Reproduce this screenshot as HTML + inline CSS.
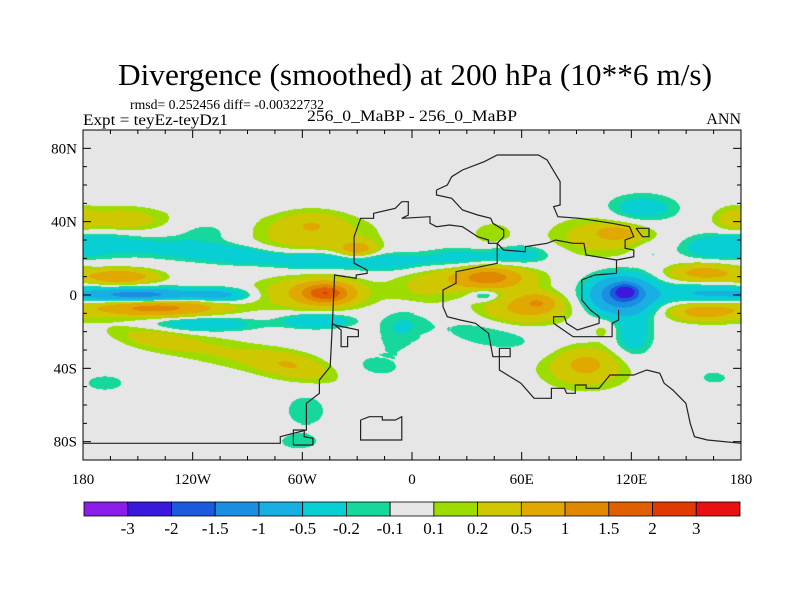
<!DOCTYPE html>
<html><head><meta charset="utf-8"><style>
html,body{margin:0;padding:0;background:#fff;}
#wrap{position:relative;width:800px;height:600px;overflow:hidden;}
svg text{font-family:"Liberation Serif","DejaVu Serif",serif;fill:#000;}
</style></head><body>
<div id="wrap">
<canvas id="field" width="658" height="330" style="position:absolute;left:83px;top:130px;"></canvas>
<svg id="svg" width="800" height="600" style="position:absolute;left:0;top:0;" font-family="Liberation Serif, DejaVu Serif, serif">
<text x="415" y="85" font-size="31" text-anchor="middle" textLength="594" lengthAdjust="spacingAndGlyphs">Divergence (smoothed) at 200 hPa (10**6 m/s)</text>
<text x="130" y="109" font-size="14" textLength="194" lengthAdjust="spacingAndGlyphs">rmsd= 0.252456 diff= -0.00322732</text>
<text x="83" y="125" font-size="16" textLength="145" lengthAdjust="spacingAndGlyphs">Expt = teyEz-teyDz1</text>
<text x="412" y="121" font-size="16" text-anchor="middle" textLength="210" lengthAdjust="spacingAndGlyphs">256_0_MaBP - 256_0_MaBP</text>
<text x="741" y="124" font-size="16" text-anchor="end">ANN</text>
<g id="coast"></g>
<rect x="83" y="130" width="658" height="330" fill="none" stroke="#000" stroke-width="1"/>
<g id="ticks"></g>
<g id="cbar"></g>
</svg>
</div>
<script>
// ---- data ----
const levels = [-3,-2,-1.5,-1,-0.5,-0.2,-0.1,0.1,0.2,0.5,1,1.5,2,3];
const levelLabels = ["-3","-2","-1.5","-1","-0.5","-0.2","-0.1","0.1","0.2","0.5","1","1.5","2","3"];
const colors = ["#8a1ee8","#3a18dc","#1a5adc","#1a8ee0","#18b0e2","#08cfd4","#16d89c","#e6e6e6","#9cdc00","#cfc800","#e0a800","#e08800","#e06000","#e03a00","#e81010"];
const lonTicks = [-180,-120,-60,0,60,120,180];
const lonLabels = ["180","120W","60W","0","60E","120E","180"];
const latTicks = [80,40,0,-40,-80];
const latLabels = ["80N","40N","0","40S","80S"];
// blob centres: lon, lat, amplitude, half-width lon, half-width lat, rotation(deg)
const blobLon = [-150,-105,-160,-140,-130,-95,-55,-15,25,58,-170,-160,-112,-55,-55,-30,-47,-55,-52,-115,-99,-67,-140,-20,-168,-58,-62,40,42,5,62,69,40,42,-1,44,115,117,158,121,160,160,165,105,112,126,176,130,95,95,105,165,-10];
const blobLat = [0,0,10,-7,25,22,19,18,20,22,28,41,34,33,39,25,1,1,-14,-16,-32,-38,-24,-40,-48,-63,-80,9,10,3,-7,-4,0,-22,-15,33,0,2,1,-22,12,-9,26,32,34,47,41,23,-40,-37,-19,-45,-20];
const blobAmp = [-1.3,-0.6,0.9,1.2,-0.3,-0.4,-0.5,-0.4,-0.3,-0.35,-0.3,0.35,-0.15,0.35,0.25,0.7,1.6,0.45,-0.5,-0.45,0.22,0.35,0.2,-0.15,-0.15,-0.2,-0.15,0.8,0.6,0.2,0.6,0.6,-0.4,-0.18,-0.15,0.18,-1.6,-1.2,-0.5,-0.35,0.7,0.7,-0.35,0.35,0.5,-0.35,0.25,-0.15,0.35,0.3,0.15,-0.15,-0.12];
const blobWx = [48,22,28,52,30,28,28,28,22,20,24,30,14,38,14,14,22,38,24,36,70,20,16,14,10,10,10,36,18,16,30,12,10,24,9,10,28,10,30,12,26,26,22,32,14,22,10,7,28,14,5,6,6];
const blobWy = [6,5,6,7,6,6,6,6,6,6,8,8,5,13,6,6,9,11,5,5,8,7,5,7,4,8,4,10,6,10,11,6,4,6,8,6,16,6,7,14,7,7,8,12,5,9,7,4,13,8,4,3,6];
const blobRot = [0,0,0,0,-4,-3,0,0,0,0,0,0,0,0,0,0,0,0,0,0,-12,-10,-8,0,0,0,0,0,0,0,0,0,0,-10,0,0,0,0,0,0,0,0,0,0,0,0,0,0,0,0,0,0,0];
// coastline outlines, in reference-grid units
const coastLines = [
 [[30,1060],[485,1060],[485,1040],[545,1020],[545,940],[575,910],[575,870],[600,830],[605,700],[610,555],[660,565],[660,555],[685,550],[685,540],[655,520],[655,440],[670,385],[700,385],[700,370],[750,355],[765,335],[780,335],[780,375],[765,385],[830,380],[830,400],[845,410],[875,405],[905,410],[940,440],[965,450],[965,460],[985,460],[985,520],[890,545],[890,580],[860,600],[860,650],[870,680],[900,690],[935,700],[965,730],[975,800],[1015,800],[1015,775],[990,775],[990,840],[1040,880],[1070,925],[1110,925],[1110,895],[1140,895],[1145,910],[1165,910],[1165,885],[1190,885],[1190,895],[1220,895],[1245,855],[1300,855],[1330,840],[1360,850],[1370,880],[1390,900],[1420,940],[1430,1000],[1440,1040],[1470,1050],[1548,1060]],
 [[985,460],[1000,480],[1050,485],[1050,470],[1100,460],[1120,450],[1160,460],[1185,460],[1190,495],[1260,510]],
 [[845,300],[845,315],[880,325],[905,360],[940,375],[970,385],[975,400],[1000,420],[1000,440],[985,460]],
 [[845,300],[870,285],[880,260],[905,240],[955,215],[985,195],[1080,195],[1100,210],[1130,275],[1130,345],[1115,350],[1125,380],[1175,385],[1250,400],[1290,410],[1300,440],[1280,450],[1280,475],[1300,480],[1300,500],[1260,510],[1260,550],[1210,555],[1180,570],[1180,630],[1200,660],[1220,680],[1220,700],[1170,720],[1145,700],[1140,680],[1115,680],[1115,700],[1160,740],[1250,740],[1250,700],[1265,690],[1265,660]],
 [[605,700],[625,720],[625,770],[640,770],[640,740],[665,740],[665,720],[610,705]],
 [[670,990],[690,980],[720,980],[720,990],[750,990],[765,980],[765,1050],[670,1050],[670,990]],
 [[515,1065],[515,1020],[540,1020],[540,1040],[560,1045],[560,1065],[515,1065]],
 [[1305,415],[1335,415],[1335,440],[1320,440],[1305,415]]
];
// ---- axes ----
const X0=83,X1=741,Y0=130,Y1=460;
const xScale = lon => X0 + (lon+180)/360*(X1-X0);
const yScale = lat => Y0 + (90-lat)/180*(Y1-Y0);
const NS="http://www.w3.org/2000/svg";
function mk(tag,attrs,parent){const e=document.createElementNS(NS,tag);for(const k in attrs)e.setAttribute(k,attrs[k]);parent.appendChild(e);return e;}

// ---- field ----
const cv=document.getElementById('field'),ctx=cv.getContext('2d');
const W=cv.width,H=cv.height,img=ctx.createImageData(W,H);
const rgb=colors.map(c=>[parseInt(c.substr(1,2),16),parseInt(c.substr(3,2),16),parseInt(c.substr(5,2),16)]);
const pre=blobLon.map((_,i)=>{const a=blobRot[i]*Math.PI/180;return [Math.cos(a),Math.sin(a),Math.max(0.3,Math.log(Math.abs(blobAmp[i])/0.09))];});
for(let py=0;py<H;py++){
 const lat=90-(py+0.5)/H*180;
 for(let px=0;px<W;px++){
  const lon=-180+(px+0.5)/W*360;
  let v=0;
  for(let i=0;i<blobLon.length;i++){
   let dx=lon-blobLon[i]; if(dx>180)dx-=360; if(dx<-180)dx+=360;
   const dy=lat-blobLat[i];
   const u=(dx*pre[i][0]+dy*pre[i][1])/blobWx[i], w=(-dx*pre[i][1]+dy*pre[i][0])/blobWy[i];
   const r2=u*u+w*w; if(r2>6)continue;
   v+=blobAmp[i]*Math.exp(-pre[i][2]*r2);
  }
  let k=0; while(k<levels.length && v>=levels[k])k++;
  const c=rgb[k],o=(py*W+px)*4;
  img.data[o]=c[0];img.data[o+1]=c[1];img.data[o+2]=c[2];img.data[o+3]=255;
 }
}
ctx.putImageData(img,0,0);

// ---- coastlines ----
const coast=document.getElementById('coast');
coastLines.forEach(line=>{
 const pts=line.map(p=>(70+p[0]*0.4337).toFixed(1)+','+(90+p[1]/3).toFixed(1)).join(' ');
 const pl=mk('polyline',{points:pts,fill:'none',stroke:'#222','stroke-width':1.2},coast);
 
 
});

// ---- ticks ----
const tg=document.getElementById('ticks');
for(let lon=-180;lon<=180;lon+=15){
 const x=xScale(lon),major=lon%60===0,L=major?8:4;
 mk('line',{x1:x,y1:Y1,x2:x,y2:Y1-L,stroke:'#000'},tg);
 mk('line',{x1:x,y1:Y0,x2:x,y2:Y0+L,stroke:'#000'},tg);
}
for(let lat=-90;lat<=90;lat+=10){
 const y=yScale(lat),major=lat%40===0,L=major?8:4;
 mk('line',{x1:X0,y1:y,x2:X0+L,y2:y,stroke:'#000'},tg);
 mk('line',{x1:X1,y1:y,x2:X1-L,y2:y,stroke:'#000'},tg);
}
lonTicks.forEach((lon,i)=>{
 const t=mk('text',{x:xScale(lon),y:484,'font-size':15,'text-anchor':'middle'},tg);
 t.textContent=lonLabels[i];
 
 
});
latTicks.forEach((lat,i)=>{
 const t=mk('text',{x:77,y:yScale(lat)+5,'font-size':15,'text-anchor':'end'},tg);
 t.textContent=latLabels[i];
 
 
});

// ---- colorbar ----
const cb=document.getElementById('cbar');
const bx0=84,bx1=740,bw=(bx1-bx0)/colors.length;
colors.forEach((c,i)=>{
 const r=mk('rect',{x:bx0+i*bw,y:502,width:bw,height:14,fill:c,stroke:'#000','stroke-width':0.8},cb);
 
 
});
levelLabels.forEach((s,i)=>{
 const t=mk('text',{x:bx0+(i+1)*bw,y:534,'font-size':17,'text-anchor':'middle'},cb);
 t.textContent=s;
 
 
});
</script>
</body></html>
